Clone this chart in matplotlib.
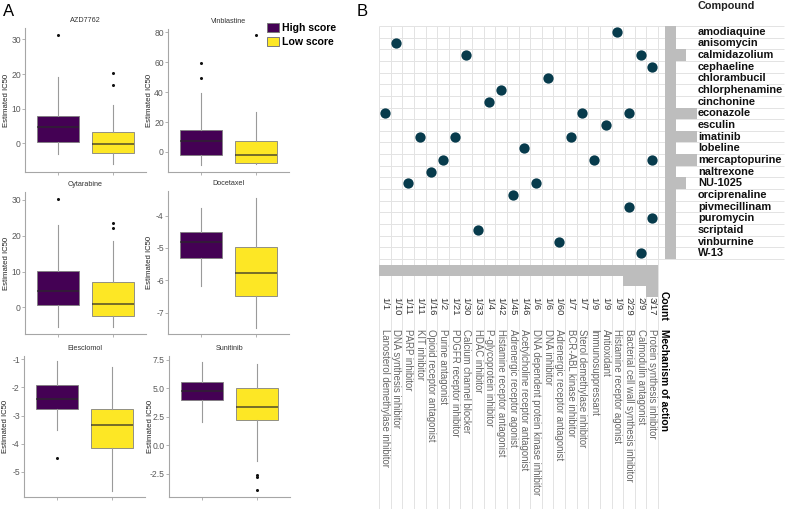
import numpy as np
import matplotlib
matplotlib.use('Agg')
import matplotlib.pyplot as plt
from matplotlib.patches import Patch

plt.rcParams['font.family'] = ['Liberation Sans', 'DejaVu Sans']
plt.rcParams['axes.unicode_minus'] = False

# ---- panel A data: box statistics ----
drugs = ['AZD7762', 'Vinblastine', 'Cytarabine', 'Docetaxel', 'Elesclomol', 'Sunitinib']
groups = ['High score', 'Low score']

high_whislo = [-3.2, -8.4, -5.4, -6.18, -3.5, 2.05]
high_q1 = [0.3, -2.0, 0.65, -5.30, -2.77, 3.96]
high_med = [4.6, 7.3, 4.5, -4.83, -2.42, 4.80]
high_q3 = [8.0, 14.7, 10.1, -4.52, -1.91, 5.56]
high_whishi = [19.1, 39.6, 23.0, -3.77, -1.06, 7.35]
high_fliers = [[31.4], [49.5, 59.7], [30.2], [], [-4.5], []]

low_whislo = [-6.0, -8.0, -5.5, -7.46, -5.7, -1.37]
low_q1 = [-2.9, -7.3, -2.4, -6.49, -4.15, 2.18]
low_med = [-0.2, -1.8, 1.1, -5.77, -3.34, 3.4]
low_q3 = [3.4, 7.1, 7.1, -4.97, -2.77, 4.99]
low_whishi = [11.0, 26.7, 18.4, -3.46, -1.28, 7.17]
low_fliers = [[16.8, 20.4], [78.0], [22.2, 23.5], [], [], [-2.62, -2.8, -3.97]]

yticks = [[0, 10, 20, 30], [0, 20, 40, 60, 80], [0, 10, 20, 30],
          [-7, -6, -5, -4], [-5, -4, -3, -2, -1], [-2.5, 0.0, 2.5, 5.0, 7.5]]

# ---- panel B data ----
compounds = ['amodiaquine', 'anisomycin', 'calmidazolium', 'cephaeline', 'chlorambucil',
             'chlorphenamine', 'cinchonine', 'econazole', 'esculin', 'imatinib', 'lobeline',
             'mercaptopurine', 'naltrexone', 'NU-1025', 'orciprenaline', 'pivmecillinam',
             'puromycin', 'scriptaid', 'vinburnine', 'W-13']
mechanisms = ['Lanosterol demethylase inhibitor', 'DNA synthesis inhibitor', 'PARP inhibitor',
              'KIT inhibitor', 'Opioid receptor antagonist', 'Purine antagonist',
              'PDGFR receptor inhibitor', 'Calcium channel blocker', 'HDAC inhibitor',
              'P-glycoprotein inhibitor', 'Histamine receptor antagonist',
              'Adrenergic receptor agonist', 'Acetylcholine receptor antagonist',
              'DNA dependent protein kinase inhibitor', 'DNA inhibitor',
              'Adrenergic receptor antagonist', 'BCR-ABL kinase inhibitor',
              'Sterol demethylase inhibitor', 'Immunosuppressant', 'Antioxidant',
              'Histamine receptor agonist', 'Bacterial cell wall synthesis inhibitor',
              'Calmodulin antagonist', 'Protein synthesis inhibitor']
mech_totals = [1, 10, 11, 11, 16, 2, 21, 30, 33, 4, 42, 45, 46, 6, 6, 60, 7, 7, 9, 9, 9, 29, 9, 17]
hits = [
    ('amodiaquine', 'Histamine receptor agonist'),
    ('anisomycin', 'DNA synthesis inhibitor'),
    ('calmidazolium', 'Calcium channel blocker'),
    ('calmidazolium', 'Calmodulin antagonist'),
    ('cephaeline', 'Protein synthesis inhibitor'),
    ('chlorambucil', 'DNA inhibitor'),
    ('chlorphenamine', 'Histamine receptor antagonist'),
    ('cinchonine', 'P-glycoprotein inhibitor'),
    ('econazole', 'Lanosterol demethylase inhibitor'),
    ('econazole', 'Sterol demethylase inhibitor'),
    ('econazole', 'Bacterial cell wall synthesis inhibitor'),
    ('esculin', 'Antioxidant'),
    ('imatinib', 'KIT inhibitor'),
    ('imatinib', 'PDGFR receptor inhibitor'),
    ('imatinib', 'BCR-ABL kinase inhibitor'),
    ('lobeline', 'Acetylcholine receptor antagonist'),
    ('mercaptopurine', 'Purine antagonist'),
    ('mercaptopurine', 'Immunosuppressant'),
    ('mercaptopurine', 'Protein synthesis inhibitor'),
    ('naltrexone', 'Opioid receptor antagonist'),
    ('NU-1025', 'PARP inhibitor'),
    ('NU-1025', 'DNA dependent protein kinase inhibitor'),
    ('orciprenaline', 'Adrenergic receptor agonist'),
    ('pivmecillinam', 'Bacterial cell wall synthesis inhibitor'),
    ('puromycin', 'Protein synthesis inhibitor'),
    ('scriptaid', 'HDAC inhibitor'),
    ('vinburnine', 'Adrenergic receptor antagonist'),
    ('W-13', 'Calmodulin antagonist'),
]

# ---- figure / layout helpers ----
W, H = 789, 509
fig = plt.figure(figsize=(W / 100, H / 100), dpi=100)


def px_axes(l, t, r, b, **kw):
    return fig.add_axes([l / W, 1 - b / H, (r - l) / W, (b - t) / H], **kw)


purple = '#440154'
yellow = '#FDE725'
spine_c = '#a6a6a6'
tick_c = '#595959'

# pixel boxes for the six panels and their y ranges
boxes_px = [(25, 28, 146, 172), (168, 29, 289, 172),
            (25, 192, 146, 334), (168, 191, 289, 334),
            (24, 356, 145, 497), (169, 356, 290, 497)]
ylims = [(-8.3, 33.3), (-13.4, 82.2), (-7.4, 32.2), (-7.66, -3.24), (-5.9, -0.88), (-4.57, 7.85)]

for i, name in enumerate(drugs):
    ax = px_axes(*boxes_px[i])
    stats = [
        dict(whislo=high_whislo[i], q1=high_q1[i], med=high_med[i], q3=high_q3[i],
             whishi=high_whishi[i], fliers=high_fliers[i]),
        dict(whislo=low_whislo[i], q1=low_q1[i], med=low_med[i], q3=low_q3[i],
             whishi=low_whishi[i], fliers=low_fliers[i]),
    ]
    bp = ax.bxp(stats, positions=[1, 2], widths=0.75, patch_artist=True, showcaps=False,
                boxprops=dict(edgecolor='#808080', linewidth=0.6),
                whiskerprops=dict(color='#9a9a9a', linewidth=0.8),
                medianprops=dict(color='#2a2a2a', alpha=0.75, linewidth=1.2),
                flierprops=dict(marker='o', markersize=1.2, markerfacecolor='#111111',
                                markeredgecolor='#111111'))
    for patch, c in zip(bp['boxes'], [purple, yellow]):
        patch.set_facecolor(c)
    ax.set_xlim(0.4, 2.6)
    ax.set_ylim(*ylims[i])
    ax.set_yticks(yticks[i])
    if name == 'Sunitinib':
        ax.set_yticklabels(['%.1f' % v for v in yticks[i]])
    ax.set_xticks([1, 2])
    ax.set_xticklabels([])
    for s in ['top', 'right']:
        ax.spines[s].set_visible(False)
    for s in ['left', 'bottom']:
        ax.spines[s].set_color(spine_c)
        ax.spines[s].set_linewidth(0.8)
    ax.tick_params(axis='both', length=2, width=0.6, color=spine_c, labelsize=6.2,
                   labelcolor=tick_c, pad=1)
    ax.set_title(name, fontsize=5.2, color='#333333', pad=4)
    ax.set_ylabel('Estimated IC50', fontsize=5.6, color='#222222')
    ax.yaxis.set_label_coords(-0.125, 0.5)
    ax.set_facecolor('none')

handles = [Patch(facecolor=purple, edgecolor='#7a7a7a', linewidth=0.7),
           Patch(facecolor=yellow, edgecolor='#7a7a7a', linewidth=0.7)]
fig.legend(handles, groups, loc='upper left', bbox_to_anchor=(263 / W, 1 - 19 / H),
           frameon=False, prop=dict(weight='bold', size=7.6), handlelength=1.1,
           handleheight=0.95, handletextpad=0.3, labelspacing=0.35, borderaxespad=0)

fig.text(3 / W, 1 - 4 / H, 'A', fontsize=12, va='top', ha='left')
fig.text(357 / W, 1 - 4 / H, 'B', fontsize=12, va='top', ha='left')

# ---- panel B ----
ncol, nrow = len(mechanisms), len(compounds)
gx0, gy0, gx1, gy1 = 379, 26, 658, 259
cw = (gx1 - gx0) / ncol
rh = (gy1 - gy0) / nrow

col_of = {m: j + 1 for j, m in enumerate(mechanisms)}
row_of = {c: i + 1 for i, c in enumerate(compounds)}
hit_x = [col_of[m] for c, m in hits]
hit_y = [row_of[c] for c, m in hits]
comp_counts = [sum(1 for c, m in hits if c == name) for name in compounds]
mech_counts = [sum(1 for c, m in hits if m == name) for name in mechanisms]

grid_c = '#e3e3e3'
axG = px_axes(gx0, gy0, 789, 509)
gx_right = 0.5 + (784 - gx0) / cw
gy_bottom = 0.5 + (509 - gy0) / rh
axG.set_xlim(0.5, 0.5 + (789 - gx0) / cw)
axG.set_ylim(gy_bottom, 0.5)
axG.vlines(np.arange(0.5, ncol + 1), 0.5, gy_bottom, color=grid_c, linewidth=0.7)
axG.hlines(np.arange(0.5, nrow + 1), 0.5, gx_right, color=grid_c, linewidth=0.7)
axG.axis('off')

axD = px_axes(gx0, gy0, gx1, gy1)
axD.scatter(hit_x, hit_y, s=55, color='#073b4c', zorder=3, linewidths=0)
axD.set_xlim(0.5, ncol + 0.5)
axD.set_ylim(nrow + 0.5, 0.5)
axD.axis('off')

# compound bars + names
unit = 10.5
rx0 = 665
axR = px_axes(rx0, gy0, 789, gy1)
axR.barh(np.arange(1, nrow + 1), comp_counts, height=1.0, color='#bdbdbd', linewidth=0)
axR.set_xlim(0, (789 - rx0) / unit)
axR.set_ylim(nrow + 0.5, 0.5)
axR.axis('off')
for i, name in enumerate(compounds):
    axR.text((698 - rx0) / (789 - rx0), i + 1, name, transform=axR.get_yaxis_transform(),
             fontsize=7.9, fontweight='bold', va='center', ha='left', color='#111111')
fig.text(698 / W, 1 - 6 / H, 'Compound', fontsize=7.8, fontweight='semibold',
         va='center', ha='left', color='#222222')

# mechanism bars + labels
by0 = 265
axM = px_axes(gx0, by0, gx1, 509)
axM.bar(np.arange(1, ncol + 1), mech_counts, width=1.0, color='#bdbdbd', linewidth=0)
axM.set_xlim(0.5, ncol + 0.5)
axM.set_ylim((509 - by0) / unit, 0)
axM.axis('off')
ty_count = 1 - (297 - by0) / (509 - by0)
ty_mech = 1 - (329 - by0) / (509 - by0)
trans = axM.get_xaxis_transform()
for j, m in enumerate(mechanisms):
    axM.text(j + 1, ty_count, '%d/%d' % (mech_counts[j], mech_totals[j]), transform=trans,
             rotation=270, fontsize=6.8, ha='center', va='top', color='#333333')
    axM.text(j + 1, ty_mech, m, transform=trans, rotation=270, fontsize=6.9,
             ha='center', va='top', color='#666666')
axM.text(ncol + 1, 1 - (291 - by0) / (509 - by0), 'Count', transform=trans, rotation=270,
         fontsize=7.4, fontweight='bold', ha='center', va='top', clip_on=False)
axM.text(ncol + 1, ty_mech, 'Mechanism of action', transform=trans, rotation=270,
         fontsize=7.4, fontweight='bold', ha='center', va='top', clip_on=False)

fig.savefig('out.png', dpi=100)
